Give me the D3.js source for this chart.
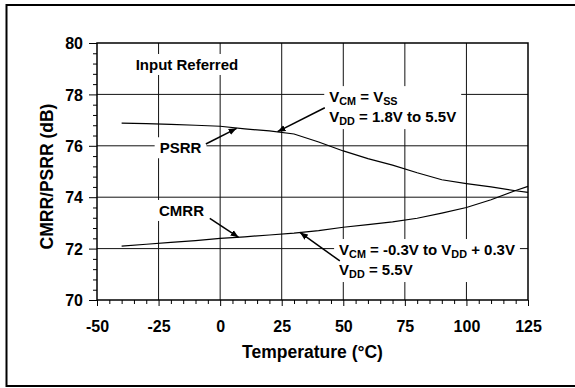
<!DOCTYPE html>
<html>
<head>
<meta charset="utf-8">
<script src="https://cdn.jsdelivr.net/npm/d3@7"></script>
<style>
  body { margin: 0; background: #fff; }
  text { font-family: Arial, "Liberation Sans", sans-serif; font-weight: bold; fill: #000; }
</style>
</head>
<body>
<div id="chart"></div>
<script>
// temperatures (deg C) and measured rejection ratios (dB)
const temps = [-40, -30, -20, -10, 0, 10, 20, 30, 40, 50, 60, 70, 80, 90, 100, 110, 120, 125];
const psrr = [76.88, 76.86, 76.83, 76.80, 76.76, 76.66, 76.58, 76.46, 76.15, 75.80, 75.50, 75.25, 74.95, 74.68, 74.53, 74.40, 74.25, 74.19];
const cmrr = [72.10, 72.17, 72.24, 72.31, 72.40, 72.46, 72.53, 72.60, 72.70, 72.83, 72.93, 73.04, 73.18, 73.38, 73.60, 73.90, 74.26, 74.42];
const xTicks = [-50, -25, 0, 25, 50, 75, 100, 125];
const yTicks = [70, 72, 74, 76, 78, 80];

const width = 575, height = 388;
const margin = { top: 43, right: 47, bottom: 88, left: 97 };

const svg = d3.select("#chart").append("svg")
    .attr("width", width)
    .attr("height", height);

// outer frame (right side runs off the picture)
svg.append("path")
    .attr("d", "M580,5 H6.5 V386 H580")
    .attr("fill", "none")
    .attr("stroke", "#000")
    .attr("stroke-width", 2);

const x = d3.scaleLinear().domain([-50, 125]).range([margin.left, width - margin.right]);
const y = d3.scaleLinear().domain([70, 80]).range([height - margin.bottom, margin.top]);

const plot = svg.append("g");

// grid
plot.selectAll(".vgrid").data(xTicks.slice(1, -1)).enter().append("line")
    .attr("x1", d => x(d)).attr("x2", d => x(d))
    .attr("y1", y(80)).attr("y2", y(70))
    .attr("stroke", "#111").attr("stroke-width", 1);
plot.selectAll(".hgrid").data(yTicks.slice(1, -1)).enter().append("line")
    .attr("x1", x(-50)).attr("x2", x(125))
    .attr("y1", d => y(d)).attr("y2", d => y(d))
    .attr("stroke", "#111").attr("stroke-width", 1);

// axes with minor ticks
const xAxis = d3.axisBottom(x).tickValues(d3.range(-50, 126, 5)).tickSize(4)
    .tickFormat(d => xTicks.includes(d) ? d : "");
const yAxis = d3.axisLeft(y).tickValues(d3.range(70, 80.01, 0.4).map(v => +v.toFixed(1))).tickSize(4)
    .tickFormat(d => yTicks.includes(d) ? d : "");

const gx = svg.append("g").attr("transform", `translate(0,${y(70)})`).call(xAxis);
const gy = svg.append("g").attr("transform", `translate(${x(-50)},0)`).call(yAxis);
gx.select(".domain").remove();
gy.select(".domain").remove();
gx.selectAll(".tick line").attr("stroke", "#000").attr("y2", d => xTicks.includes(d) ? 6 : 4);
gy.selectAll(".tick line").attr("stroke", "#000").attr("x2", d => yTicks.includes(d) ? -8 : -4);
gx.selectAll(".tick text").attr("font-size", 16).attr("font-family", null).attr("y", 21).attr("dy", "0.71em");
gy.selectAll(".tick text").attr("font-size", 16).attr("font-family", null).attr("x", -14).attr("dy", "0.36em");

// plot frame
svg.append("rect")
    .attr("x", x(-50)).attr("y", y(80))
    .attr("width", x(125) - x(-50)).attr("height", y(70) - y(80))
    .attr("fill", "none").attr("stroke", "#000").attr("stroke-width", 1.5);

// axis titles
svg.append("text")
    .attr("x", (x(-50) + x(125)) / 2).attr("y", 358)
    .attr("text-anchor", "middle").attr("font-size", 17.5)
    .text("Temperature (°C)");
svg.append("text")
    .attr("transform", `translate(53,${(y(70) + y(80)) / 2 + 5}) rotate(-90)`)
    .attr("text-anchor", "middle").attr("font-size", 17.5)
    .text("CMRR/PSRR (dB)");

// annotation labels with white boxes that break the grid
const ann = svg.append("g");

function label(tx, ty, lines, size, anchor) {
    const g = ann.append("g");
    const bg = g.append("rect").attr("fill", "#fff");
    const t = g.append("text").attr("font-size", size).attr("text-anchor", anchor || "start");
    lines.forEach((parts, i) => {
        let first = true;
        parts.forEach(p => {
            const ts = t.append("tspan");
            if (first) ts.attr("x", x(tx)).attr("y", y(ty) + i * 20);
            first = false;
            if (p.sub) ts.attr("font-size", size * 0.72).attr("dy", 3);
            else if (p.after) ts.attr("dy", -3);
            ts.text(p.t);
        });
    });
    const b = t.node().getBBox();
    bg.attr("x", b.x - 5).attr("y", b.y - 2).attr("width", b.width + 10).attr("height", b.height + 4);
}

label(-34.3, 78.95, [[{ t: "Input Referred" }]], 15);
label(-16.1, 75.71, [[{ t: "PSRR" }]], 15, "middle");
label(-15.7, 73.27, [[{ t: "CMRR" }]], 15, "middle");
label(44.3, 77.70, [
    [{ t: "V" }, { t: "CM", sub: true }, { t: " = V", after: true }, { t: "SS", sub: true }],
    [{ t: "V" }, { t: "DD", sub: true }, { t: " = 1.8V to 5.5V", after: true }]
], 15);
label(48.3, 71.75, [
    [{ t: "V" }, { t: "CM", sub: true }, { t: " = -0.3V to V", after: true }, { t: "DD", sub: true }, { t: " + 0.3V", after: true }],
    [{ t: "V" }, { t: "DD", sub: true }, { t: " = 5.5V", after: true }]
], 15);

// data lines
const line = d3.line().x((d, i) => x(temps[i])).y(d => y(d));
[psrr, cmrr].forEach(s => {
    svg.append("path").datum(s)
        .attr("d", line)
        .attr("fill", "none").attr("stroke", "#000").attr("stroke-width", 1.2);
});

// arrows
svg.append("defs").append("marker")
    .attr("id", "head")
    .attr("viewBox", "0 -5 10 10")
    .attr("refX", 10).attr("refY", 0)
    .attr("markerWidth", 8).attr("markerHeight", 8)
    .attr("markerUnits", "userSpaceOnUse")
    .attr("orient", "auto")
    .append("path").attr("d", "M0,-4L10,0L0,4Z").attr("fill", "#000");

const arrows = [
    [[-5.8, 76.07], [6.7, 76.68]],
    [[42.5, 77.48], [23.3, 76.55]],
    [[-4.2, 73.18], [7.5, 72.44]],
    [[48.6, 71.52], [32.4, 72.63]]
];
svg.selectAll(".arrow").data(arrows).enter().append("line")
    .attr("x1", d => x(d[0][0])).attr("y1", d => y(d[0][1]))
    .attr("x2", d => x(d[1][0])).attr("y2", d => y(d[1][1]))
    .attr("stroke", "#000").attr("stroke-width", 1.5)
    .attr("marker-end", "url(#head)");
</script>
</body>
</html>
